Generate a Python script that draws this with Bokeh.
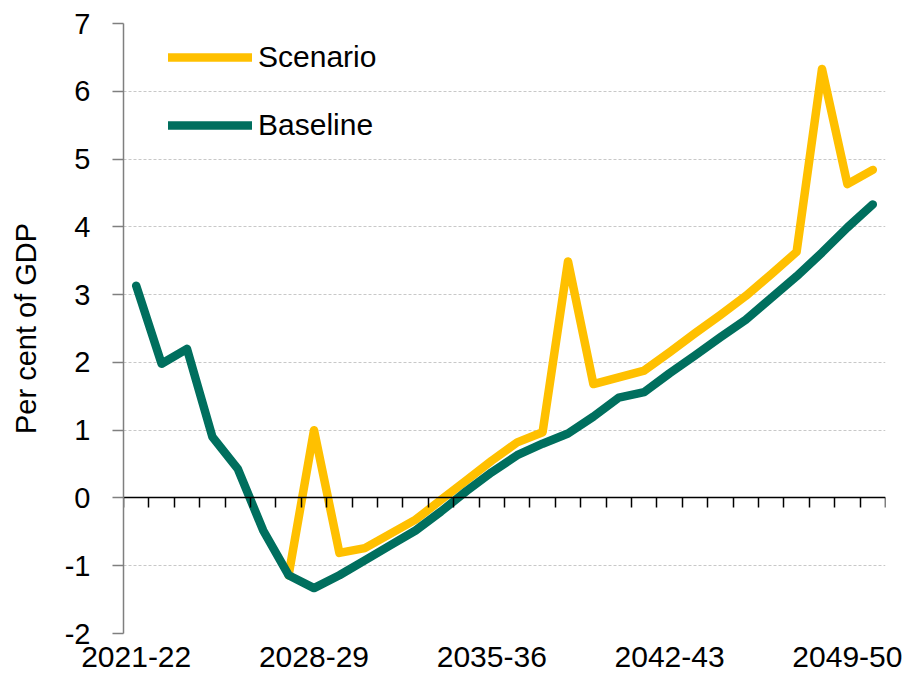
from bokeh.plotting import figure
from bokeh.models import (Range1d, FixedTicker, LinearAxis, Legend, LegendItem)
from bokeh.embed import file_html
from bokeh.resources import INLINE

# ---- data ----
years = ["2021-22", "2022-23", "2023-24", "2024-25", "2025-26", "2026-27",
         "2027-28", "2028-29", "2029-30", "2030-31", "2031-32", "2032-33",
         "2033-34", "2034-35", "2035-36", "2036-37", "2037-38", "2038-39",
         "2039-40", "2040-41", "2041-42", "2042-43", "2043-44", "2044-45",
         "2045-46", "2046-47", "2047-48", "2048-49", "2049-50", "2050-51"]
baseline = [3.13, 1.98, 2.20, 0.90, 0.43, -0.48, -1.14, -1.33, -1.14, -0.92,
            -0.70, -0.48, -0.20, 0.10, 0.38, 0.63, 0.80, 0.95, 1.20, 1.48,
            1.56, 1.84, 2.10, 2.37, 2.63, 2.95, 3.27, 3.62, 3.99, 4.33]
nan = float("nan")
scenario = [nan, nan, nan, nan, nan, nan, -1.14, 1.00, -0.81, -0.74,
            -0.53, -0.32, -0.03, 0.26, 0.55, 0.82, 0.97, 3.49, 1.68, 1.78,
            1.88, 2.15, 2.43, 2.70, 2.98, 3.30, 3.63, 6.33, 4.63, 4.84]
label_years = ["2021-22", "2028-29", "2035-36", "2042-43", "2049-50"]
y_ticks = [-2, -1, 0, 1, 2, 3, 4, 5, 6, 7]

YELLOW = "#FFC000"
GREEN = "#006F5E"
FONT = "Liberation Sans"

xs = list(range(len(years)))

p = figure(width=902, height=677, output_backend="svg", toolbar_location=None,
           x_range=Range1d(-0.5, len(years) - 0.5), y_range=Range1d(-2, 7),
           min_border_left=123, min_border_right=17, min_border_top=23,
           min_border_bottom=44)
p.outline_line_color = None
p.background_fill_color = "white"
p.border_fill_color = "white"

# lines
r_scen = p.line(xs, scenario, line_color=YELLOW, line_width=8.5,
                line_cap="round", line_join="round")
r_base = p.line(xs, baseline, line_color=GREEN, line_width=8.5,
                line_cap="round", line_join="round")

# y axis
p.yaxis.ticker = FixedTicker(ticks=y_ticks)
p.yaxis.major_label_overrides = {t: str(t) for t in y_ticks}
p.yaxis.axis_label = "Per cent of GDP"
p.yaxis.axis_label_text_font = FONT
p.yaxis.axis_label_text_font_size = "29px"
p.yaxis.axis_label_text_font_style = "normal"
p.yaxis.axis_label_text_color = "black"
p.yaxis.axis_label_standoff = 20
p.yaxis.major_label_text_font = FONT
p.yaxis.major_label_text_font_size = "29px"
p.yaxis.major_label_text_color = "black"
p.yaxis.major_label_standoff = 22
p.yaxis.axis_line_color = "#7F7F7F"
p.yaxis.axis_line_width = 1.5
p.yaxis.major_tick_line_color = "#7F7F7F"
p.yaxis.major_tick_line_width = 1.5
p.yaxis.major_tick_out = 11
p.yaxis.major_tick_in = 0
p.yaxis.minor_tick_line_color = None

# grid
p.xgrid.grid_line_color = None
p.ygrid.ticker = FixedTicker(ticks=y_ticks)
p.ygrid.grid_line_color = "#C8C8C8"
p.ygrid.grid_line_dash = "3 2"
p.ygrid.grid_line_width = 1

# bottom label axis
label_pos = [years.index(y) for y in label_years]
p.xaxis.ticker = FixedTicker(ticks=label_pos)
p.xaxis.major_label_overrides = {i: years[i] for i in label_pos}
p.xaxis.axis_line_color = None
p.xaxis.major_tick_line_color = None
p.xaxis.minor_tick_line_color = None
p.xaxis.major_label_text_font = FONT
p.xaxis.major_label_text_font_size = "30px"
p.xaxis.major_label_text_color = "black"
p.xaxis.major_label_standoff = 7

# zero-line axis with category boundary ticks
bounds = [i - 0.5 for i in range(len(years) + 1)]
zero_axis = LinearAxis(fixed_location=0, ticker=FixedTicker(ticks=bounds),
                       major_label_text_font_size="0px",
                       axis_line_color="black", axis_line_width=1.5,
                       major_tick_line_color="black", major_tick_line_width=1.5,
                       major_tick_in=0, major_tick_out=10,
                       minor_tick_line_color=None, major_label_standoff=0)
zero_axis.major_label_text_color = None
p.add_layout(zero_axis, "below")

# legend
legend = Legend(items=[LegendItem(label="Scenario", renderers=[r_scen]),
                       LegendItem(label="Baseline", renderers=[r_base])],
                location=(45, 491), orientation="vertical",
                glyph_width=84, glyph_height=30, label_height=30,
                label_standoff=6, spacing=34, padding=0, margin=0,
                label_text_font=FONT, label_text_font_size="30px",
                label_text_color="black",
                background_fill_alpha=0, border_line_color=None)
p.add_layout(legend)

open("out.html", "w").write(file_html(p, INLINE))
